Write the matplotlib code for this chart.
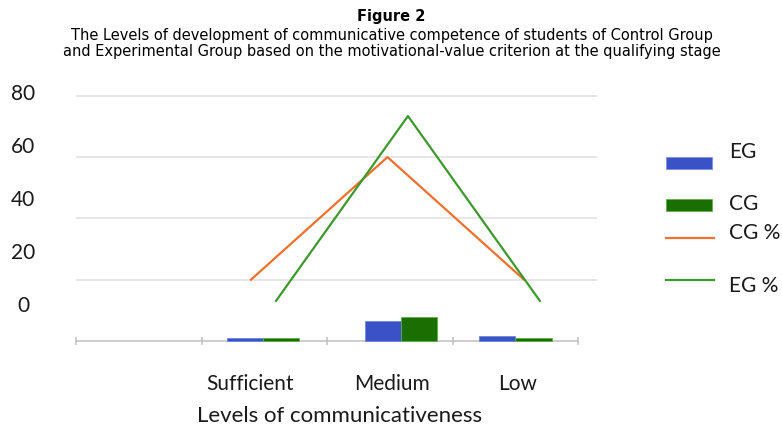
import matplotlib
matplotlib.use("Agg")
import matplotlib.pyplot as plt
import matplotlib.transforms as mtransforms
from matplotlib.patches import Rectangle
from matplotlib.lines import Line2D

# ---- data ----
categories = ["Sufficient", "Medium", "Low"]
eg_bars = [1.1, 6.6, 1.5]
cg_bars = [0.9, 7.7, 1.0]
cg_pct = [20, 60, 20]
eg_pct = [13.1, 73.4, 13.1]
ytick_labels = ["0", "20", "40", "60", "80"]
ytick_values = [0, 20, 40, 60, 80]

title = "Figure 2"
subtitle = ("The Levels of development of communicative competence of students of Control Group\n"
            "and Experimental Group based on the motivational-value criterion at the qualifying stage")
xlabel = "Levels of communicativeness"

# ---- style ----
W, H = 782, 428
BLUE = "#3a52c8"
DKGREEN = "#1b6e02"
ORANGE = "#f0702c"
LGREEN = "#3c9a2c"
TXT = "#1a1a1a"
FONT = "Lato"

fig = plt.figure(figsize=(W / 100, H / 100), dpi=100)

# axes placed in pixel terms
ax_left, ax_right, ax_top, ax_bot = 76, 597, 85, 345
ax = fig.add_axes([ax_left / W, (H - ax_bot) / H, (ax_right - ax_left) / W, (ax_bot - ax_top) / H])

zero_px, ppu = 341, 61.3 / 20
ax.set_ylim((zero_px - ax_bot) / ppu, (zero_px - ax_top) / ppu)
slot_px = 125.5
ax.set_xlim(-0.5, -0.5 + (ax_right - ax_left) / slot_px)

# gridlines
for v in ytick_values[1:]:
    ax.axhline(v, color="#e4e4e4", lw=1.3, zorder=0)

pos = [1, 2, 3]
group_shift = [-0.01, 0.09, 0.0]
bw = 0.29
for i, p in enumerate(pos):
    c = p + group_shift[i]
    ax.bar(c - bw / 2, eg_bars[i], width=bw, color=BLUE, edgecolor="#6f86e0", lw=0.6, zorder=3)
    ax.bar(c + bw / 2, cg_bars[i], width=bw, color=DKGREEN, edgecolor="#5fae4a", lw=0.6, zorder=3)

# lines (slightly offset category positions as in the original)
o_start, o_step = 0.894, 1.088
g_start, g_step = 1.094, 1.051
ax.plot([o_start + i * o_step for i in range(3)], cg_pct, color=ORANGE, lw=1.6, zorder=4)
ax.plot([g_start + i * g_step for i in range(3)], eg_pct, color=LGREEN, lw=1.6, zorder=4)

# x axis line with boundary ticks
for s in ["top", "right", "left"]:
    ax.spines[s].set_visible(False)
ax.spines["bottom"].set_position(("data", 0))
ax.spines["bottom"].set_bounds(-0.5, 3.5)
ax.spines["bottom"].set_color("#c0c0c0")
ax.spines["bottom"].set_linewidth(1.1)
ax.set_xticks([-0.5, 0.5, 1.5, 2.5, 3.5])
ax.set_xticklabels([])
ax.tick_params(axis="x", which="major", direction="inout", length=6, color="#c0c0c0", width=1.1)
ax.set_xticks(pos, minor=True)
ax.set_xticklabels(categories, minor=True, fontsize=15, family=FONT, color=TXT)
ax.tick_params(axis="x", which="minor", length=0, pad=24)
shifts = [-14, 2, 2]
for lab, sh in zip(ax.get_xticklabels(minor=True), shifts):
    lab.set_transform(lab.get_transform() + mtransforms.ScaledTranslation(sh / 100, 0, fig.dpi_scale_trans))
ax.set_yticks([])

# y tick labels (offset scale, as in the original)
ax2 = ax.twinx()
lab_zero, lab_ppu = 304, 53 / 20
ax2.set_ylim((lab_zero - ax_bot) / lab_ppu, (lab_zero - ax_top) / lab_ppu)
ax2.yaxis.tick_left()
ax2.set_yticks(ytick_values)
ax2.set_yticklabels(ytick_labels, fontsize=15, family=FONT, color=TXT)
ax2.tick_params(axis="y", length=0, pad=38)
for lab in ax2.get_yticklabels():
    lab.set_horizontalalignment("center")
for s in ax2.spines.values():
    s.set_visible(False)

# x label
fig.text(340 / W, 1 - 416 / H, xlabel, ha="center", va="center", fontsize=16, family=FONT, color=TXT)

# titles
fig.text(391 / W, 1 - 16 / H, title, ha="center", va="center", fontsize=10.5, fontweight="bold",
         family="DejaVu Sans")
fig.text(392 / W, 1 - 43.5 / H, subtitle, ha="center", va="center", fontsize=10.5, family="DejaVu Sans",
         linespacing=1.12)

# legend (manual, irregular as in the original)
def px(x, y):
    return x / W, 1 - y / H

fig.add_artist(Rectangle(px(666, 169.5), 46 / W, 12 / H, transform=fig.transFigure,
                         facecolor=BLUE, edgecolor="#7d92e6", lw=0.6))
fig.add_artist(Rectangle(px(666, 210.5), 46 / W, 12 / H, transform=fig.transFigure,
                         facecolor=DKGREEN, edgecolor="#5fae4a", lw=0.6))
fig.add_artist(Line2D([666 / W, 714 / W], [1 - 238.5 / H] * 2, transform=fig.transFigure, color=ORANGE, lw=1.6))
fig.add_artist(Line2D([666 / W, 714 / W], [1 - 280 / H] * 2, transform=fig.transFigure, color=LGREEN, lw=1.6))
for lbl, yy in [("EG", 152), ("CG", 204), ("CG %", 233), ("EG %", 286)]:
    fig.text(729 / W, 1 - yy / H, lbl, ha="left", va="center", fontsize=15, family=FONT, color=TXT)

fig.savefig("out.png", dpi=100)
